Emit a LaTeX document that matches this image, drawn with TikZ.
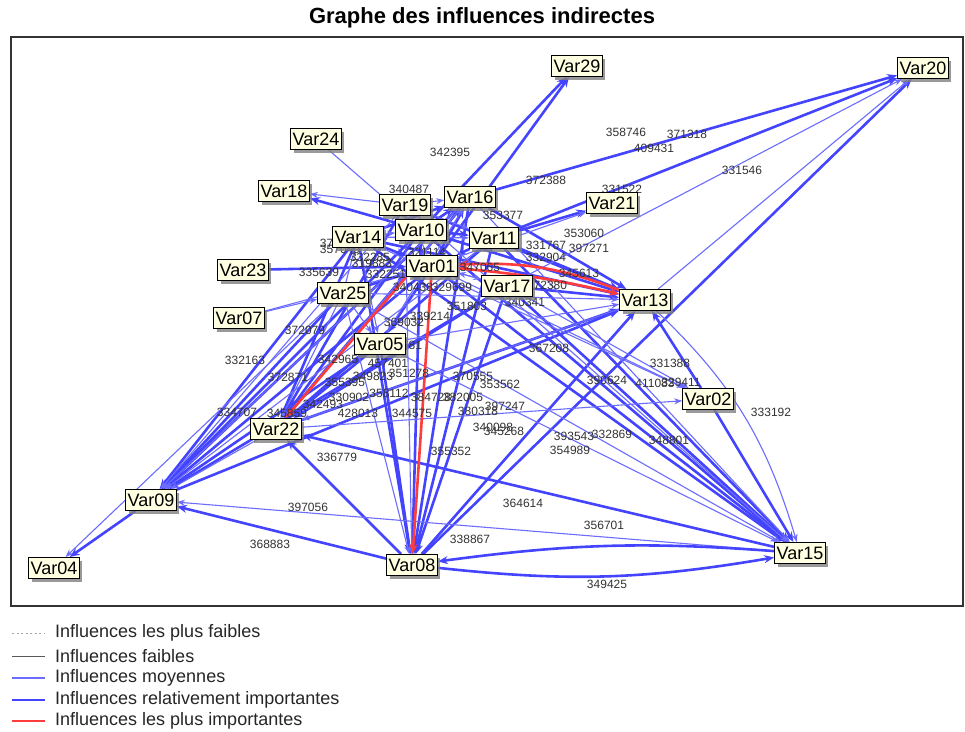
\documentclass[tikz,border=0pt]{standalone}
\usepackage{fontspec}
\setmainfont{Liberation Sans}
\usetikzlibrary{arrows.meta,shadows,bending}
\pgfdeclarelayer{bg}
\pgfdeclarelayer{edges}
\pgfdeclarelayer{labels}
\pgfsetlayers{bg,edges,labels,main}
\definecolor{vbox}{HTML}{FFFFE1}
\definecolor{tbc}{HTML}{4444FF}
\definecolor{nbc}{HTML}{6C6CFF}
\definecolor{rdc}{HTML}{FF3C3C}
\definecolor{lblc}{HTML}{333333}
\begin{document}
\begin{tikzpicture}[x=1pt,y=-1pt,
  var/.style={draw=black, line width=1pt, fill=vbox, font=\fontsize{18}{20}\selectfont,
    inner xsep=2pt, inner ysep=1pt, minimum height=21pt,
    drop shadow={shadow xshift=3pt, shadow yshift=-3pt, fill=black!50, opacity=0.8}},
  wt/.style={font=\fontsize{12}{13}\selectfont, text=lblc, inner sep=0pt},
  thk/.style={draw=tbc, line width=2.6pt, -{Stealth[length=10pt,width=8pt]}},
  thn/.style={draw=nbc, line width=1.1pt, -{Stealth[length=8pt,width=6pt]}},
  rdedge/.style={draw=rdc, line width=2.6pt, -{Stealth[length=10pt,width=8pt]}},
  legtxt/.style={anchor=west, font=\fontsize{18}{20}\selectfont, text=black!85, inner sep=0pt}
]
\useasboundingbox (0,0) rectangle (965,731);
\begin{pgfonlayer}{bg}
\fill[white] (0,0) rectangle (965,731);
\end{pgfonlayer}

% title and frame
\node[font=\bfseries\fontsize{22}{25}\selectfont] (title) at (482,18) {Graphe des influences indirectes};
\draw[line width=1.4pt, black!80] (11,37) rectangle (963,606);

% variables
\node[var] (v29) at (577,66) {Var29};
\node[var] (v20) at (923,68) {Var20};
\node[var] (v24) at (316,139) {Var24};
\node[var] (v18) at (284,191) {Var18};
\node[var] (v16) at (470,197) {Var16};
\node[var] (v19) at (405,205) {Var19};
\node[var] (v21) at (612,203) {Var21};
\node[var] (v10) at (421,230) {Var10};
\node[var] (v14) at (358,237) {Var14};
\node[var] (v11) at (494,238) {Var11};
\node[var] (v23) at (243,270) {Var23};
\node[var] (v01) at (432,266) {Var01};
\node[var] (v17) at (507,286) {Var17};
\node[var] (v13) at (645,300) {Var13};
\node[var] (v25) at (343,293) {Var25};
\node[var] (v07) at (239,318) {Var07};
\node[var] (v05) at (380,344) {Var05};
\node[var] (v02) at (708,399) {Var02};
\node[var] (v22) at (276,429) {Var22};
\node[var] (v09) at (151,500) {Var09};
\node[var] (v04) at (54,568) {Var04};
\node[var] (v08) at (412,565) {Var08};
\node[var] (v15) at (800,553) {Var15};

\begin{pgfonlayer}{edges}
% thick blue
\foreach \a/\b in {v10/v29,v01/v29,v16/v20,v11/v20,v08/v20,v11/v21,v10/v18,v23/v01,
  v09/v04,v14/v09,v01/v09,v10/v09,v25/v09,v05/v09,v17/v09,v08/v09,
  v05/v22,v14/v22,v10/v22,v19/v22,v11/v22,v17/v22,v15/v22,v08/v22,
  v05/v08,v14/v08,v10/v08,v16/v08,v11/v08,v17/v08,
  v01/v15,v10/v15,v14/v15,v11/v15,v17/v15,v02/v15,
  v14/v13,v10/v13,v19/v13,v16/v13,v11/v13,v17/v13,v08/v13,v22/v13,v09/v13,v02/v13,
  v22/v16,v09/v16,v01/v05,v14/v16,v01/v16,v10/v11,v14/v01,v25/v01,v11/v01,v10/v16}
  \draw[thk] (\a) -- (\b);
% thin blue
\foreach \a/\b in {v17/v20,v13/v20,v01/v21,v19/v18,v24/v10,v07/v25,v07/v01,v25/v04,
  v19/v09,v11/v09,v22/v09,v16/v09,v15/v09,
  v25/v22,v16/v22,v13/v22,v22/v02,
  v25/v08,v19/v08,
  v16/v15,v19/v15,v05/v15,v25/v15,
  v05/v13,v25/v13,
  v14/v02,v17/v02,v01/v02,v05/v16,v14/v05,v25/v05,
  v19/v16,v19/v01,v14/v10,v17/v01,v01/v17,v25/v14,v14/v11,v19/v11}
  \draw[thn] (\a) -- (\b);
\draw[thn] (v13) to[bend left=15] (v15);
\draw[thk] (v15) to[bend right=6] (v08);
\draw[thk] (v08) to[bend right=8] (v15);
% red
\draw[rdedge] (v01.south west) -- (v22);
\draw[rdedge] (v01) -- (v08);
\draw[rdedge] (v01) to[bend left=4] (v13);
\draw[rdedge] (v13) to[bend right=12] (v01);
\end{pgfonlayer}

\begin{pgfonlayer}{labels}
\node[wt] (l01) at (450,152) {342395};
\node[wt] (l02) at (626,132) {358746};
\node[wt] (l03) at (687,134) {371318};
\node[wt] (l04) at (654,148) {409431};
\node[wt] (l05) at (742,170) {331546};
\node[wt] (l06) at (546,180) {372388};
\node[wt] (l07) at (409,189) {340487};
\node[wt] (l08) at (622,189) {331522};
\node[wt] (l09) at (503,215) {353377};
\node[wt] (l10) at (584,233) {353060};
\node[wt] (l11) at (589,248) {397271};
\node[wt] (l12) at (546,245) {331767};
\node[wt] (l13) at (546,257) {332904};
\node[wt] (l14) at (579,273) {345613};
\node[wt] (l15) at (547,285) {372380};
\node[wt] (l16) at (480,267) {347065};
\node[wt] (l17) at (427,252) {321114};
\node[wt] (l18) at (340,243) {372434};
\node[wt] (l19) at (340,249) {357049};
\node[wt] (l20) at (319,272) {335639};
\node[wt] (l21) at (370,257) {332285};
\node[wt] (l22) at (372,263) {319883};
\node[wt] (l23) at (386,274) {332251};
\node[wt] (l24) at (413,287) {340438};
\node[wt] (l25) at (452,287) {329699};
\node[wt] (l26) at (467,306) {351803};
\node[wt] (l27) at (525,302) {340341};
\node[wt] (l28) at (404,322) {369032};
\node[wt] (l29) at (430,316) {339214};
\node[wt] (l30) at (305,330) {372079};
\node[wt] (l31) at (402,345) {338581};
\node[wt] (l32) at (549,348) {367208};
\node[wt] (l33) at (245,360) {332163};
\node[wt] (l34) at (338,359) {342965};
\node[wt] (l35) at (388,363) {457401};
\node[wt] (l36) at (288,377) {372871};
\node[wt] (l37) at (373,376) {349823};
\node[wt] (l38) at (409,373) {351278};
\node[wt] (l39) at (473,376) {370555};
\node[wt] (l40) at (500,384) {353562};
\node[wt] (l41) at (345,382) {355395};
\node[wt] (l42) at (389,393) {358112};
\node[wt] (l43) at (349,397) {330902};
\node[wt] (l44) at (323,404) {342493};
\node[wt] (l45) at (431,397) {384728};
\node[wt] (l46) at (463,397) {382005};
\node[wt] (l47) at (505,406) {397247};
\node[wt] (l48) at (478,411) {380318};
\node[wt] (l49) at (358,413) {428013};
\node[wt] (l50) at (412,413) {344575};
\node[wt] (l51) at (287,413) {345859};
\node[wt] (l52) at (493,427) {340098};
\node[wt] (l53) at (504,431) {345268};
\node[wt] (l54) at (451,451) {355352};
\node[wt] (l55) at (337,457) {336779};
\node[wt] (l56) at (237,412) {334707};
\node[wt] (l57) at (574,436) {393543};
\node[wt] (l58) at (612,434) {332869};
\node[wt] (l59) at (570,450) {354989};
\node[wt] (l60) at (669,440) {348801};
\node[wt] (l61) at (670,363) {331388};
\node[wt] (l62) at (607,380) {390624};
\node[wt] (l63) at (655,383) {411083};
\node[wt] (l64) at (681,382) {329411};
\node[wt] (l65) at (771,412) {333192};
\node[wt] (l66) at (523,503) {364614};
\node[wt] (l67) at (604,525) {356701};
\node[wt] (l68) at (308,507) {397056};
\node[wt] (l69) at (270,544) {368883};
\node[wt] (l70) at (470,539) {338867};
\node[wt] (l71) at (607,584) {349425};
\end{pgfonlayer}

% legend
\coordinate (ka) at (12,633); \coordinate (kb) at (45,633);
\coordinate (kc) at (12,656); \coordinate (kd) at (45,656);
\coordinate (ke) at (12,678); \coordinate (kf) at (45,678);
\coordinate (kg) at (12,700); \coordinate (kh) at (45,700);
\coordinate (ki) at (12,721); \coordinate (kj) at (45,721);
\draw[black!35, line width=0.8pt, dash pattern=on 2pt off 2.5pt] (ka) -- (kb);
\draw[black!65, line width=1pt] (kc) -- (kd);
\draw[nbc, line width=1.2pt] (ke) -- (kf);
\draw[tbc, line width=2.6pt] (kg) -- (kh);
\draw[rdc, line width=2.6pt] (ki) -- (kj);
\node[legtxt] (t1) at (55,633) {Influences les plus faibles};
\node[legtxt] (t2) at (55,656) {Influences faibles};
\node[legtxt] (t3) at (55,678) {Influences moyennes};
\node[legtxt] (t4) at (55,700) {Influences relativement importantes};
\node[legtxt] (t5) at (55,721) {Influences les plus importantes};
\end{tikzpicture}
\end{document}
